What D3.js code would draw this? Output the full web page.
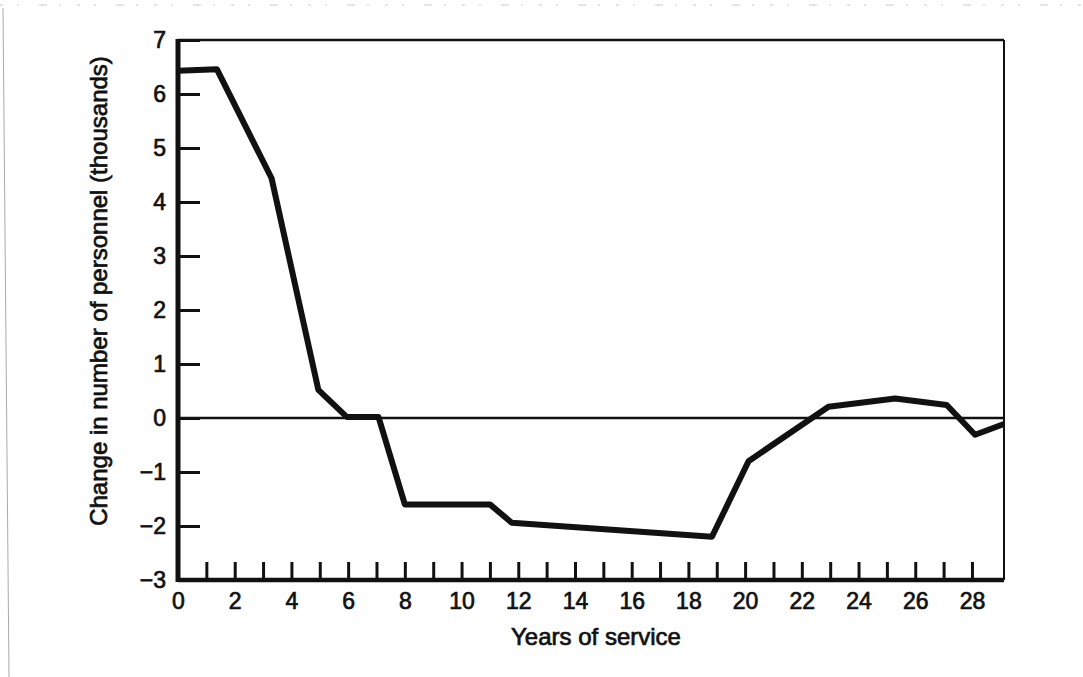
<!DOCTYPE html>
<html>
<head>
<meta charset="utf-8">
<script src="https://cdn.jsdelivr.net/npm/d3@7"></script>
<style>
  body { margin: 0; background: #fff; }
  svg { display: block; font-family: "Liberation Sans", Arial, sans-serif; }
  text { stroke: #111; stroke-width: 0.7px; }
</style>
</head>
<body>
<div id="chart"></div>
<script>
// values
const years  = [0, 1.37, 3.3, 4.95, 5.95, 7.07, 8.0, 11.0, 11.77, 18.83, 20.12, 22.94, 25.29, 27.11, 28.11, 29.13];
const change = [6.43, 6.46, 4.44, 0.52, 0.02, 0.02, -1.6, -1.6, -1.94, -2.2, -0.8, 0.21, 0.36, 0.24, -0.31, -0.11];
const yTicks = [-3, -2, -1, 0, 1, 2, 3, 4, 5, 6, 7];
const xTicks = d3.range(0, 29);
const xTitle = 'Years of service';
const yTitle = 'Change in number of personnel (thousands)';

const width = 1083, height = 677;
const plotLeft = 178, plotRight = 1004, plotTop = 40, plotBottom = 580;

const svg = d3.select('#chart').append('svg')
    .attr('width', width)
    .attr('height', height);

// faint scan edges
svg.append('line')
    .attr('x1', 3).attr('y1', 8).attr('x2', 9).attr('y2', height)
    .attr('stroke', '#aaa').attr('stroke-width', 1);
svg.append('line')
    .attr('x1', 0).attr('y1', 5).attr('x2', width).attr('y2', 5)
    .attr('stroke', '#ccc').attr('stroke-width', 1)
    .attr('stroke-dasharray', '3 14 2 20 8 12 2 16');

const x = d3.scaleLinear().domain([0, 29.13]).range([plotLeft, plotRight]);
const y = d3.scaleLinear().domain([-3, 7]).range([plotBottom, plotTop]);

// y axis ticks + labels
const yAxis = svg.append('g')
    .attr('transform', `translate(${plotLeft},0)`)
    .call(d3.axisLeft(y)
        .tickValues(yTicks)
        .tickSize(-22)
        .tickPadding(12)
        .tickFormat(d => d < 0 ? '\u2212' + Math.abs(d) : d));
yAxis.select('.domain').remove();
yAxis.selectAll('line').attr('stroke', '#111').attr('stroke-width', 3);
yAxis.selectAll('text')
    .attr('fill', '#111')
    .style('font-size', '23px');

// x axis ticks + labels
const xAxis = svg.append('g')
    .attr('transform', `translate(0,${plotBottom})`)
    .call(d3.axisBottom(x)
        .tickValues(xTicks)
        .tickSize(-18)
        .tickPadding(13)
        .tickFormat(d => d % 2 === 0 ? d : ''));
xAxis.select('.domain').remove();
xAxis.selectAll('line').attr('stroke', '#111').attr('stroke-width', 3);
xAxis.selectAll('text')
    .attr('fill', '#111')
    .style('font-size', '23px');

// zero line
svg.append('line')
    .attr('x1', plotLeft).attr('x2', plotRight)
    .attr('y1', y(0)).attr('y2', y(0))
    .attr('stroke', '#111').attr('stroke-width', 2.5);

// frame
svg.append('line')
    .attr('x1', plotLeft).attr('x2', plotRight).attr('y1', plotTop).attr('y2', plotTop)
    .attr('stroke', '#111').attr('stroke-width', 2.5);
svg.append('line')
    .attr('x1', plotRight).attr('x2', plotRight).attr('y1', plotTop).attr('y2', plotBottom)
    .attr('stroke', '#111').attr('stroke-width', 2);
svg.append('line')
    .attr('x1', plotLeft).attr('x2', plotRight).attr('y1', plotBottom).attr('y2', plotBottom)
    .attr('stroke', '#111').attr('stroke-width', 4.5);
svg.append('line')
    .attr('x1', plotLeft).attr('x2', plotLeft).attr('y1', plotTop - 1).attr('y2', plotBottom + 2)
    .attr('stroke', '#111').attr('stroke-width', 5);

// data line
const line = d3.line()
    .x((d, i) => x(years[i]))
    .y(d => y(d));

svg.append('path')
    .datum(change)
    .attr('d', line)
    .attr('fill', 'none')
    .attr('stroke', '#111')
    .attr('stroke-width', 6)
    .attr('stroke-linejoin', 'round');

// axis titles
svg.append('text')
    .attr('x', 596)
    .attr('y', 645)
    .attr('text-anchor', 'middle')
    .attr('fill', '#111')
    .style('font-size', '24px')
    .text(xTitle);

svg.append('text')
    .attr('transform', 'translate(107,291) rotate(-90)')
    .attr('text-anchor', 'middle')
    .attr('fill', '#111')
    .style('font-size', '24px')
    .text(yTitle);
</script>
</body>
</html>
